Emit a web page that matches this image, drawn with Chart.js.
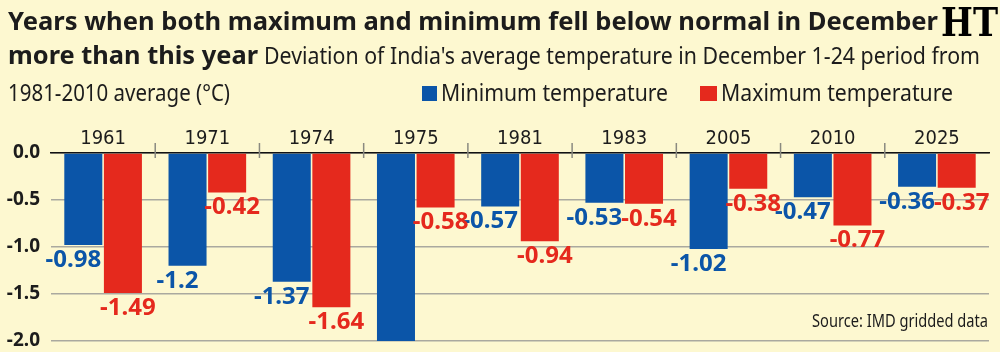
<!DOCTYPE html>
<html>
<head>
<meta charset="utf-8">
<script src="https://cdn.jsdelivr.net/npm/chart.js@4.4.1/dist/chart.umd.min.js"></script>
<style>
  html, body { margin: 0; padding: 0; background: #fdf8d0; }
  canvas { display: block; }
</style>
</head>
<body>
<canvas id="grafico" width="1000" height="352"></canvas>
<script>
// datos
var years = ['1961', '1971', '1974', '1975', '1981', '1983', '2005', '2010', '2025'];
var minTemp = [-0.98, -1.2, -1.37, -2.05, -0.57, -0.53, -1.02, -0.47, -0.36];
var maxTemp = [-1.49, -0.42, -1.64, -0.58, -0.94, -0.54, -0.38, -0.77, -0.37];
var yTicks = [0, -0.5, -1, -1.5, -2];

var AZUL = '#0b55a8';
var ROJO = '#e5291d';
var TEXTO = '#1c1c1c';
var SANS = "'Noto Sans', 'Open Sans', sans-serif";
var NARROW = "'Liberation Sans Narrow', 'DejaVu Sans Condensed', 'Noto Sans', sans-serif";

// texto ajustado a un ancho fijo
function fitText(ctx, text, x, y, width) {
  var w = ctx.measureText(text).width;
  ctx.save();
  ctx.translate(x, y);
  ctx.scale(width / w, 1);
  ctx.fillText(text, 0, 0);
  ctx.restore();
}

var cabecera = {
  id: 'cabecera',
  beforeDraw: function(chart) {
    var ctx = chart.ctx;
    ctx.save();
    ctx.fillStyle = '#fdf8d0';
    ctx.fillRect(0, 0, chart.width, chart.height);
    ctx.fillStyle = TEXTO;
    ctx.textBaseline = 'alphabetic';
    ctx.textAlign = 'left';
    ctx.font = 'bold 25px ' + SANS;
    fitText(ctx, 'Years when both maximum and minimum fell below normal in December', 8, 30, 930);
    fitText(ctx, 'more than this year', 8, 64, 250);
    ctx.font = '23px ' + SANS;
    fitText(ctx, "Deviation of India's average temperature in December 1-24 period from", 264, 64, 716);
    fitText(ctx, '1981-2010 average (\u00B0C)', 8, 101, 222);
    // leyenda
    ctx.fillStyle = AZUL;
    ctx.fillRect(422, 86, 15, 15);
    ctx.fillStyle = ROJO;
    ctx.fillRect(700, 86, 17, 15);
    ctx.fillStyle = TEXTO;
    fitText(ctx, 'Minimum temperature', 441, 101, 227);
    fitText(ctx, 'Maximum temperature', 721, 101, 232);
    // logo
    ctx.fillStyle = '#000';
    ctx.font = 'bold 40px "DejaVu Serif", serif';
    fitText(ctx, 'HT', 941, 36, 57);
    ctx.restore();
  },
  afterDraw: function(chart) {
    var ctx = chart.ctx;
    var xs = chart.scales.x;
    var area = chart.chartArea;
    ctx.save();
    // marcas entre categorias
    ctx.strokeStyle = '#8a8a80';
    ctx.lineWidth = 1.5;
    for (var i = 1; i < years.length; i++) {
      var px = (xs.getPixelForValue(i - 1) + xs.getPixelForValue(i)) / 2;
      ctx.beginPath();
      ctx.moveTo(px, area.top - 10);
      ctx.lineTo(px, area.top + 5);
      ctx.stroke();
    }
    ctx.fillStyle = TEXTO;
    ctx.font = '18px ' + SANS;
    ctx.textAlign = 'left';
    var src = 'Source: IMD gridded data';
    fitText(ctx, src, 812, 327, 176);
    ctx.restore();
  }
};

var etiquetas = {
  id: 'etiquetas',
  afterDatasetsDraw: function(chart) {
    var ctx = chart.ctx;
    var ys = chart.scales.y;
    ctx.save();
    ctx.font = 'bold 24px ' + SANS;
    ctx.textAlign = 'center';
    ctx.textBaseline = 'top';
    chart.data.datasets.forEach(function(ds, d) {
      var meta = chart.getDatasetMeta(d);
      var desp = d === 0 ? -10 : 5;
      ctx.fillStyle = ds.backgroundColor;
      meta.data.forEach(function(bar, i) {
        var v = ds.data[i];
        if (v < ys.min) return;
        ctx.fillText(String(v), bar.x + desp, bar.y + 3);
      });
    });
    ctx.restore();
  }
};

var ctx = document.getElementById('grafico').getContext('2d');
var grafico = new Chart(ctx, {
  type: 'bar',
  data: {
    labels: years,
    datasets: [{
      label: 'Minimum temperature',
      data: minTemp,
      backgroundColor: AZUL,
      barPercentage: 0.96,
      categoryPercentage: 0.76
    }, {
      label: 'Maximum temperature',
      data: maxTemp,
      backgroundColor: ROJO,
      barPercentage: 0.96,
      categoryPercentage: 0.76
    }]
  },
  options: {
    responsive: false,
    animation: false,
    devicePixelRatio: 1,
    layout: { padding: { top: 120, bottom: 11, right: 11, left: 0 } },
    plugins: {
      legend: { display: false },
      tooltip: { enabled: false }
    },
    scales: {
      x: {
        position: 'top',
        grid: { display: false, drawTicks: false },
        border: { display: true, color: '#111', width: 1.5 },
        ticks: {
          color: TEXTO,
          padding: 2,
          font: { family: NARROW, size: 20, weight: '500' }
        },
        afterFit: function(s) {
          s.height = 33;
          s.paddingLeft = 0;
          s.paddingRight = 0;
        }
      },
      y: {
        min: -2,
        max: 0,
        afterBuildTicks: function(s) {
          s.ticks = yTicks.map(function(v) { return { value: v }; });
        },
        grid: { color: '#aaa99f', lineWidth: 1.5, drawTicks: false },
        border: { display: false },
        ticks: {
          color: TEXTO,
          padding: 11,
          font: { family: SANS, size: 19, weight: 'bold' },
          callback: function(v) { return Number(v).toFixed(1); }
        },
        afterFit: function(s) {
          s.width = 51;
          s.paddingTop = 0;
          s.paddingBottom = 0;
        }
      }
    }
  },
  plugins: [cabecera, etiquetas]
});
</script>
</body>
</html>
